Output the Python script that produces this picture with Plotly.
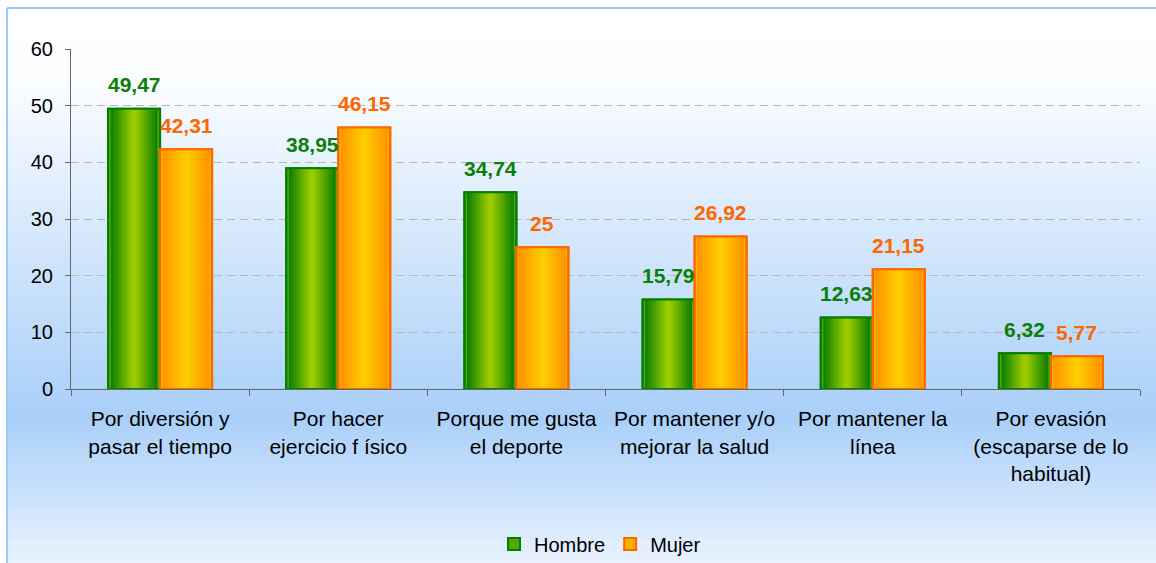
import base64
import plotly.graph_objects as go

categories = [
    "Por diversión y<br>pasar el tiempo",
    "Por hacer<br>ejercicio f ísico",
    "Porque me gusta<br>el deporte",
    "Por mantener y/o<br>mejorar la salud",
    "Por mantener la<br>línea",
    "Por evasión<br>(escaparse de lo<br>habitual)",
]
hombre = [49.47, 38.95, 34.74, 15.79, 12.63, 6.32]
mujer = [42.31, 46.15, 25, 26.92, 21.15, 5.77]
y_ticks = [0, 10, 20, 30, 40, 50, 60]

W_PX, H_PX = 1156, 563
L, R, T, B = 71, 16, 49, 174
PW, PH = W_PX - L - R, H_PX - T - B


def xp(px):
    return (px - L) / PW


def yp(py):
    return (T + PH - py) / PH


def fmt(v):
    return ("%g" % v).replace(".", ",")


def lerp(c1, c2, t):
    a = [int(c1[i:i + 2], 16) for i in (1, 3, 5)]
    b = [int(c2[i:i + 2], 16) for i in (1, 3, 5)]
    return "#" + "".join("%02x" % round(a[i] + (b[i] - a[i]) * t) for i in range(3))


BW = 0.292  # bar width in category units
N = 10
fig = go.Figure()

series = [
    ("Hombre", hombre, -BW, "#007a00", "#9ccc00", "#007f00", "#0a7f0a"),
    ("Mujer", mujer, 0.0, "#ff9000", "#ffcc00", "#ff6600", "#ff6600"),
]

for name, vals, off, dark, light, edge, lab in series:
    for k in range(N):
        frac = 1 - k / N
        w = BW * frac
        o = off + (BW - w) / 2
        col = lerp(dark, light, 0.55) if k == 0 else lerp(dark, light, k / (N - 1))
        fig.add_trace(go.Bar(
            x=categories, y=vals, name=name, width=w, offset=o,
            marker=dict(color=col, line=dict(width=2 if k == 0 else 0, color=edge)),
            showlegend=(k == 0), legendgroup=name, hoverinfo="skip" if k else None,
        ))
    fig.add_trace(go.Bar(
        x=categories, y=vals, name=name, width=BW, offset=off,
        marker=dict(color="rgba(0,0,0,0)", line=dict(width=2, color=edge)),
        showlegend=False, legendgroup=name,
    ))

annotations = []
for name, vals, off, dark, light, edge, lab in series:
    for c, v in zip(categories, vals):
        annotations.append(dict(
            x=c, y=v, xref="x", yref="y", text="<b>%s</b>" % fmt(v),
            showarrow=False, xshift=(off + BW / 2) * PW / 6, yshift=24,
            yanchor="middle", font=dict(family="Liberation Sans, Arial", size=21, color=lab),
        ))

svg = ('<svg xmlns="http://www.w3.org/2000/svg" width="100" height="100" viewBox="0 0 100 100" '
       'preserveAspectRatio="none"><defs><linearGradient id="g" x1="0" y1="0" x2="0" y2="1">'
       '<stop offset="0" stop-color="#ffffff"/><stop offset="0.12" stop-color="#fbfdff"/>'
       '<stop offset="0.69" stop-color="#a9cff9"/>'
       '<stop offset="1" stop-color="#f8fbff"/></linearGradient></defs>'
       '<rect width="100" height="100" fill="url(#g)"/></svg>')
src = "data:image/svg+xml;base64," + base64.b64encode(svg.encode()).decode()

border = dict(color="#99ccff", width=2)

fig.update_layout(
    width=W_PX, height=H_PX,
    margin=dict(l=L, r=R, t=T, b=B, autoexpand=False),
    barmode="overlay",
    paper_bgcolor="#ffffff",
    plot_bgcolor="#ffffff",
    font=dict(family="Liberation Sans, Arial", size=20, color="#000000"),
    showlegend=True,
    legend=dict(orientation="h", x=xp(600), xanchor="center", y=yp(544), yanchor="middle",
                bgcolor="rgba(0,0,0,0)", font=dict(size=20), itemwidth=30, tracegroupgap=0),
    annotations=annotations,
    images=[dict(source=src, xref="paper", yref="paper", x=xp(7), y=yp(8),
                 sizex=xp(1200) - xp(7), sizey=yp(8) - yp(600), sizing="stretch",
                 xanchor="left", yanchor="top", layer="below")],
    shapes=[
        dict(type="line", xref="paper", yref="paper", x0=xp(7), x1=xp(1200),
             y0=yp(8), y1=yp(8), line=border, layer="below"),
        dict(type="line", xref="paper", yref="paper", x0=xp(7), x1=xp(7),
             y0=yp(8), y1=yp(600), line=border, layer="below"),
    ],
    xaxis=dict(
        type="category", showline=True, linecolor="#666666", linewidth=1,
        ticks="outside", tickson="boundaries", ticklen=6, tickcolor="#666666",
        showgrid=False, ticklabelstandoff=11, tickfont=dict(size=21),
        range=[-0.5, 5.5], automargin=False,
    ),
    yaxis=dict(
        range=[0, 60], tickvals=y_ticks, showline=True, linecolor="#666666", linewidth=1,
        ticks="outside", ticklen=5, tickcolor="#666666", showgrid=True,
        gridcolor="#b8b8b8", griddash="8px,5px", gridwidth=1, zeroline=False,
        ticklabelstandoff=8, tickfont=dict(size=20), automargin=False,
    ),
)

fig.write_html(
    "out.html", config={"displayModeBar": False},
    post_script=("document.body.style.margin='0';"
                 "document.body.style.overflow='hidden';"
                 "document.documentElement.style.overflow='hidden';"),
)
